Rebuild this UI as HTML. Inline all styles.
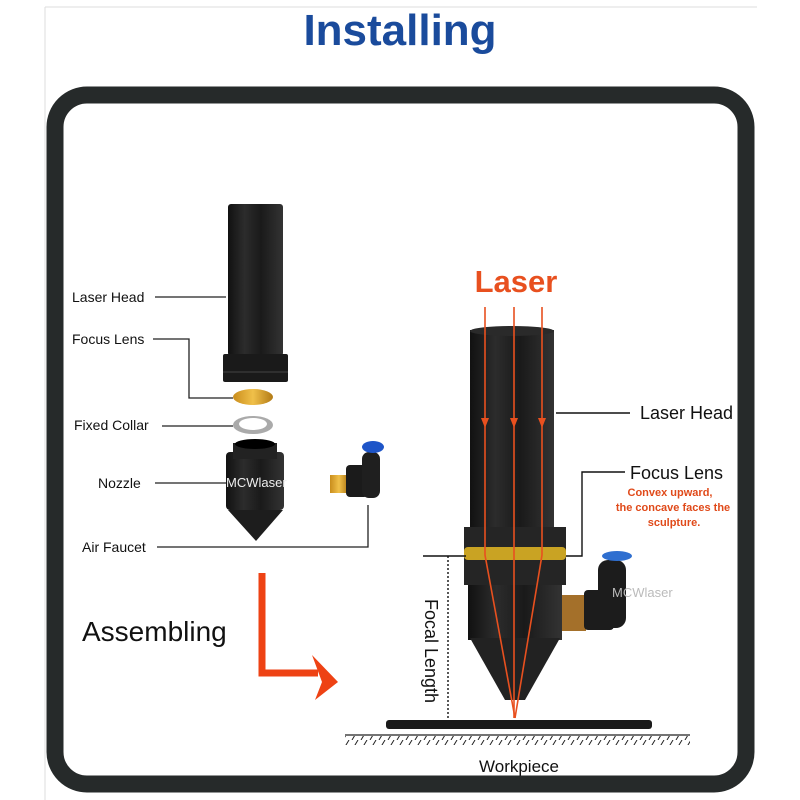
<!DOCTYPE html>
<html><head><style>
body{margin:0;width:800px;height:800px;background:#fff;overflow:hidden}
svg{display:block}
text{font-family:"Liberation Sans",sans-serif}
</style></head><body>
<svg width="800" height="800" viewBox="0 0 800 800">
<defs>
<linearGradient id="blk" x1="0" x2="1"><stop offset="0" stop-color="#111"/><stop offset="0.3" stop-color="#2c2c2c"/><stop offset="0.6" stop-color="#1a1a1a"/><stop offset="1" stop-color="#333"/></linearGradient>
<linearGradient id="gold" x1="0" x2="1"><stop offset="0" stop-color="#c98d1c"/><stop offset="0.5" stop-color="#f0c04a"/><stop offset="1" stop-color="#b27a15"/></linearGradient>
<pattern id="hatch" width="9" height="10" patternUnits="userSpaceOnUse"><line x1="7" y1="0" x2="1" y2="10" stroke="#222" stroke-width="1"/></pattern>
</defs>
<line x1="45" y1="7" x2="757" y2="7" stroke="#ddd"/>
<line x1="45" y1="7" x2="45" y2="800" stroke="#ddd"/>
<text x="400" y="45" text-anchor="middle" font-size="44" font-weight="bold" fill="#1a4b9c">Installing</text>
<rect x="55" y="95" width="691" height="689" rx="32" fill="#fff" stroke="#262a2a" stroke-width="17"/>

<!-- left exploded parts -->
<rect x="228" y="204" width="55" height="152" rx="3" fill="url(#blk)"/>
<rect x="223" y="354" width="65" height="28" rx="2" fill="#1a1a1a"/>
<line x1="223" y1="372" x2="288" y2="372" stroke="#444"/>
<ellipse cx="253" cy="397" rx="20" ry="8" fill="url(#gold)"/>
<ellipse cx="253" cy="425" rx="20" ry="9" fill="#aaa"/>
<ellipse cx="253" cy="424" rx="14" ry="6" fill="#fff"/>
<rect x="226" y="452" width="58" height="58" rx="4" fill="url(#blk)"/>
<rect x="233" y="443" width="44" height="16" fill="#222"/>
<ellipse cx="255" cy="444" rx="20" ry="5" fill="#000"/>
<polygon points="228,510 283,510 256,541" fill="#1d1d1d"/>
<text x="226" y="487" font-size="13" fill="#eee">MCWlaser</text>
<rect x="330" y="475" width="18" height="18" fill="url(#gold)"/>
<rect x="346" y="465" width="22" height="32" rx="4" fill="#1b1b1b"/>
<rect x="362" y="452" width="18" height="46" rx="7" fill="#1f1f1f"/>
<ellipse cx="373" cy="447" rx="11" ry="6" fill="#1e55c8"/>
<!-- left labels -->
<g font-size="14" fill="#111">
<text x="72" y="302">Laser Head</text>
<text x="72" y="344">Focus Lens</text>
<text x="74" y="430">Fixed Collar</text>
<text x="98" y="488">Nozzle</text>
<text x="82" y="552">Air Faucet</text>
</g>
<g stroke="#222" stroke-width="1.3" fill="none">
<line x1="155" y1="297" x2="226" y2="297"/>
<polyline points="153,339 189,339 189,398 233,398"/>
<line x1="162" y1="426" x2="233" y2="426"/>
<line x1="155" y1="483" x2="226" y2="483"/>
<polyline points="157,547 368,547 368,505"/>
</g>
<text x="82" y="641" font-size="28" fill="#111">Assembling</text>
<polyline points="262,573 262,673 318,673" fill="none" stroke="#ee4214" stroke-width="7"/>
<polygon points="312,655 338,682 315,700 322,682" fill="#ee4214"/>

<!-- right assembled head -->
<rect x="470" y="330" width="84" height="200" fill="url(#blk)"/>
<ellipse cx="512" cy="331" rx="42" ry="5" fill="#2a2a2a"/>
<rect x="464" y="527" width="102" height="58" fill="#252525"/>
<rect x="464" y="547" width="102" height="13" rx="4" fill="#c9a323"/>
<rect x="468" y="585" width="94" height="55" fill="url(#blk)"/>
<polygon points="470,638 560,638 525,700 505,700" fill="#222"/>
<rect x="562" y="595" width="24" height="36" fill="#a4702a"/>
<rect x="584" y="590" width="30" height="40" rx="4" fill="#1c1c1c"/>
<rect x="598" y="560" width="28" height="68" rx="10" fill="#1c1c1c"/>
<ellipse cx="617" cy="556" rx="15" ry="5" fill="#2f6fd0"/>
<text x="612" y="597" font-size="13" fill="#bbb">MCWlaser</text>
<!-- lasers -->
<g stroke="#e8501f" stroke-width="1.6" fill="none">
<polyline points="485,307 485,555 515,718"/>
<polyline points="514,307 514,718"/>
<polyline points="542,307 542,555 515,718"/>
</g>
<g fill="#e8501f">
<polygon points="481,418 489,418 485,428"/><polygon points="510,418 518,418 514,428"/><polygon points="538,418 546,418 542,428"/>
</g>
<text x="516" y="292" text-anchor="middle" font-size="31" font-weight="bold" fill="#e8501f">Laser</text>
<text x="640" y="419" font-size="18" fill="#111">Laser Head</text>
<text x="630" y="479" font-size="18" fill="#111">Focus Lens</text>
<g font-size="11" font-weight="bold" fill="#e04a1a" text-anchor="middle">
<text x="670" y="496">Convex upward,</text>
<text x="673" y="511">the concave faces the</text>
<text x="674" y="526">sculpture.</text>
</g>
<g stroke="#111" stroke-width="1.4" fill="none">
<line x1="556" y1="413" x2="630" y2="413"/>
<polyline points="566,556 582,556 582,472 625,472"/>
<line x1="423" y1="556" x2="466" y2="556"/>
<line x1="448" y1="556" x2="448" y2="722" stroke-dasharray="2,2"/>
</g>
<text transform="translate(425,651) rotate(90)" text-anchor="middle" font-size="18" fill="#111">Focal Length</text>
<rect x="386" y="720" width="266" height="9" rx="3" fill="#1a1a1a"/>
<line x1="345" y1="735" x2="690" y2="735" stroke="#222" stroke-width="1.3"/>
<rect x="345" y="736" width="345" height="9" fill="url(#hatch)"/>
<text x="519" y="772" text-anchor="middle" font-size="17" fill="#111">Workpiece</text>
</svg>
</body></html>
